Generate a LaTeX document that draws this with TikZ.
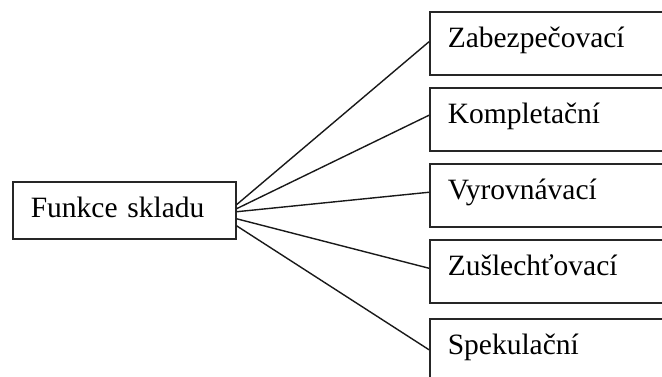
\documentclass[tikz,border=0pt]{standalone}
\usepackage{fontspec}
\setmainfont{Liberation Serif}
\begin{document}
\begin{tikzpicture}[x=1pt,y=1pt,
  box/.style={draw=black!85, line width=1.5pt, rectangle, anchor=north west,
    inner xsep=18pt, inner ysep=0pt, text height=36pt, text depth=27pt,
    align=left, font=\fontsize{29.5}{34}\selectfont},
  fn/.style={box, text width=235pt},
  link/.style={draw=black!90, line width=1.4pt}]
\useasboundingbox (0,0) rectangle (662,376);
\clip (0,0) rectangle (662,376);
% central box
\node[box, text width=187pt, text depth=21pt] (f) at (12,195) {Funkce skladu};
% functions, right column (runs past the right edge)
\node[fn] (z) at (429,365) {Zabezpečovací};
\node[fn] (k) at (429,289) {Kompletační};
\node[fn] (v) at (429,213) {Vyrovnávací};
\node[fn] (u) at (429,137) {Zušlechťovací};
\node[fn] (s) at (429,58)  {Spekulační};
% connectors
\draw[link] ([yshift=5.5pt]f.east)  -- ([yshift=1.5pt]z.west);
\draw[link] ([yshift=1.5pt]f.east)  -- ([yshift=4pt]k.west);
\draw[link] ([yshift=-1.5pt]f.east) -- ([yshift=3pt]v.west);
\draw[link] ([yshift=-8.5pt]f.east) -- ([yshift=3pt]u.west);
\draw[link] ([yshift=-15.5pt]f.east) -- ([yshift=0.5pt]s.west);
\end{tikzpicture}
\end{document}
